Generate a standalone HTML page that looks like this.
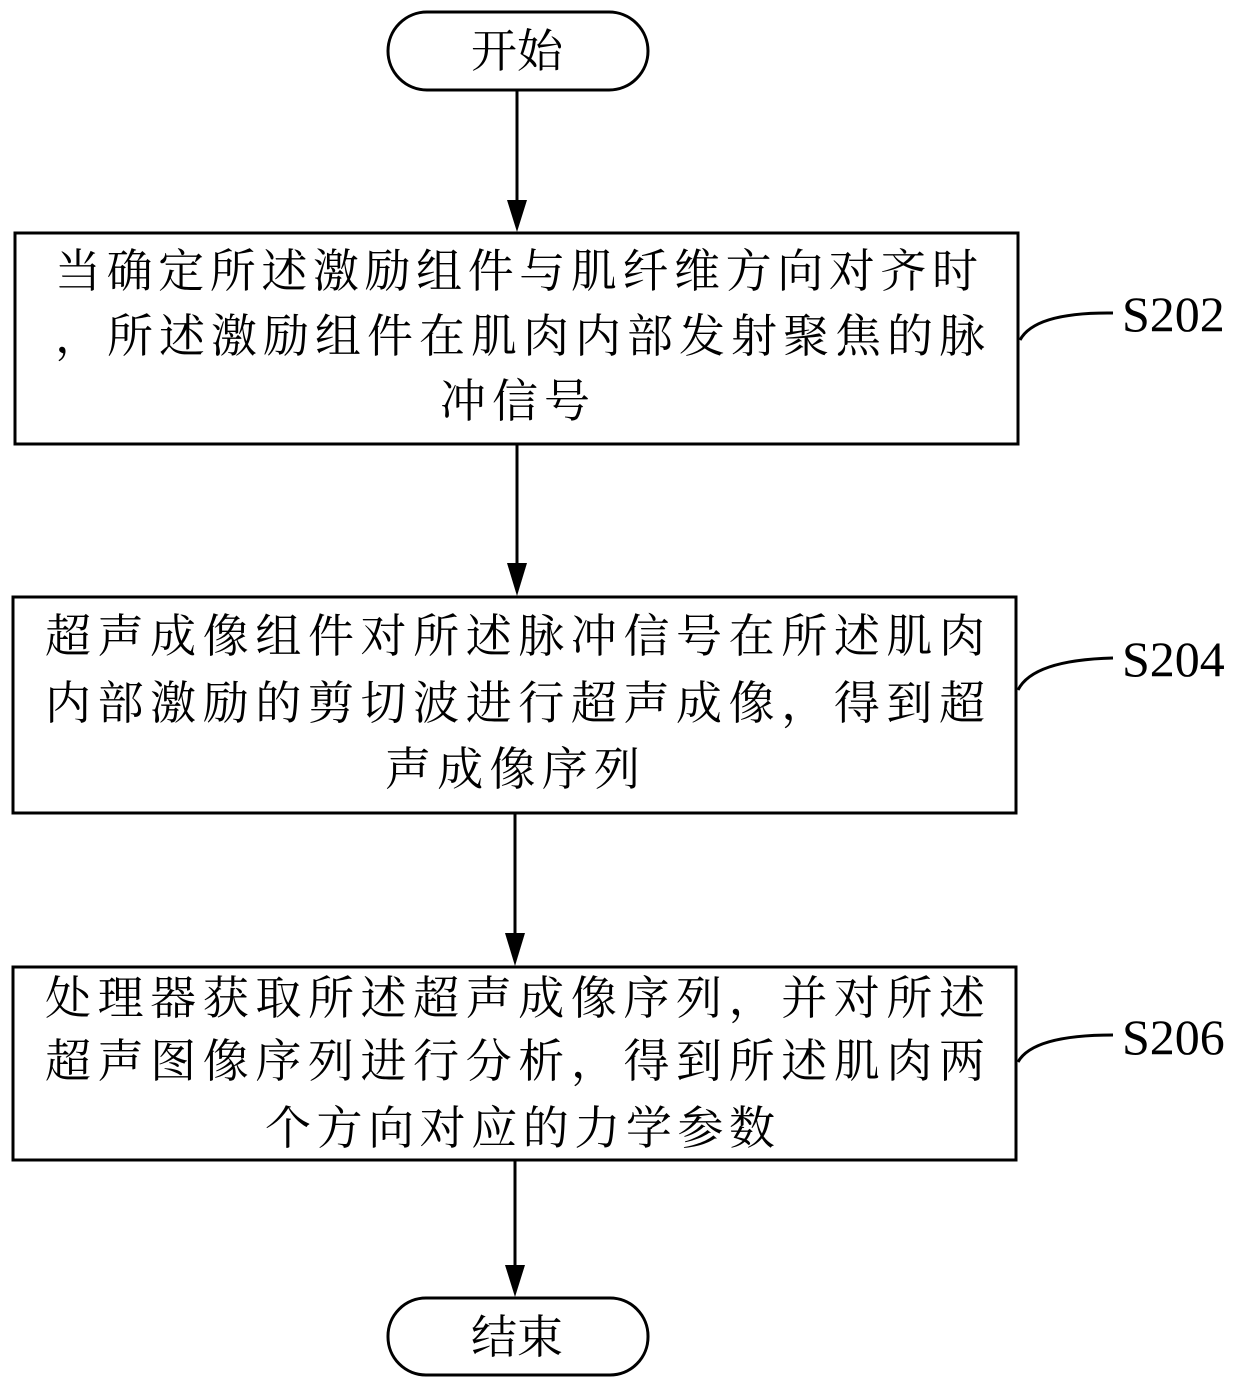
<!DOCTYPE html>
<html><head><meta charset="utf-8"><style>
html,body{margin:0;padding:0;background:#fff;}
svg{display:block}
.t{font-family:"Liberation Serif","Noto Serif CJK SC",serif;font-size:46px;fill:#000}
.s{font-family:"Liberation Serif",serif;font-size:50px;fill:#000}
</style></head><body>
<svg width="1240" height="1388" viewBox="0 0 1240 1388" xmlns="http://www.w3.org/2000/svg">
<defs><marker id="a" markerWidth="12" markerHeight="24" refX="6" refY="24" orient="auto-start-reverse" markerUnits="userSpaceOnUse" viewBox="0 0 12 24">
</marker></defs>
<g fill="none" stroke="#000" stroke-width="3">
<rect x="388" y="12" width="260" height="78" rx="39"/>
<rect x="15" y="233" width="1003" height="211"/>
<rect x="13" y="597" width="1003" height="216"/>
<rect x="13" y="967" width="1003" height="193"/>
<rect x="388" y="1298" width="260" height="77" rx="38"/>
<line x1="517" y1="90" x2="517" y2="205"/>
<line x1="517" y1="444" x2="517" y2="568"/>
<line x1="515" y1="813" x2="515" y2="938"/>
<line x1="515" y1="1160" x2="515" y2="1270"/>
<path d="M1020 340 Q1035 312 1113 313"/>
<path d="M1018 690 Q1033 660 1113 658"/>
<path d="M1018 1062 Q1033 1035 1113 1035"/>
</g>
<g fill="#000">
<polygon points="507,200 527,200 517,232"/>
<polygon points="507,563 527,563 517,596"/>
<polygon points="505,933 525,933 515,966"/>
<polygon points="505,1265 525,1265 515,1297"/>
</g>
<text class="t" x="517" y="67" text-anchor="middle">开始</text>
<text class="t" x="517" y="1353" text-anchor="middle">结束</text>
<text class="t" x="55" y="287" textLength="923" lengthAdjust="spacing">当确定所述激励组件与肌纤维方向对齐时</text>
<text class="t" x="55" y="352" textLength="930" lengthAdjust="spacing">，所述激励组件在肌肉内部发射聚焦的脉</text>
<text class="t" x="440" y="417" textLength="150" lengthAdjust="spacing">冲信号</text>
<text class="t" x="45" y="652" textLength="940" lengthAdjust="spacing">超声成像组件对所述脉冲信号在所述肌肉</text>
<text class="t" x="45" y="719" textLength="940" lengthAdjust="spacing">内部激励的剪切波进行超声成像，得到超</text>
<text class="t" x="385" y="785" textLength="255" lengthAdjust="spacing">声成像序列</text>
<text class="t" x="45" y="1014" textLength="940" lengthAdjust="spacing">处理器获取所述超声成像序列，并对所述</text>
<text class="t" x="45" y="1077" textLength="940" lengthAdjust="spacing">超声图像序列进行分析，得到所述肌肉两</text>
<text class="t" x="265" y="1144" textLength="510" lengthAdjust="spacing">个方向对应的力学参数</text>
<text class="s" x="1122" y="331">S202</text>
<text class="s" x="1122" y="676">S204</text>
<text class="s" x="1122" y="1054">S206</text>
</svg>
</body></html>
